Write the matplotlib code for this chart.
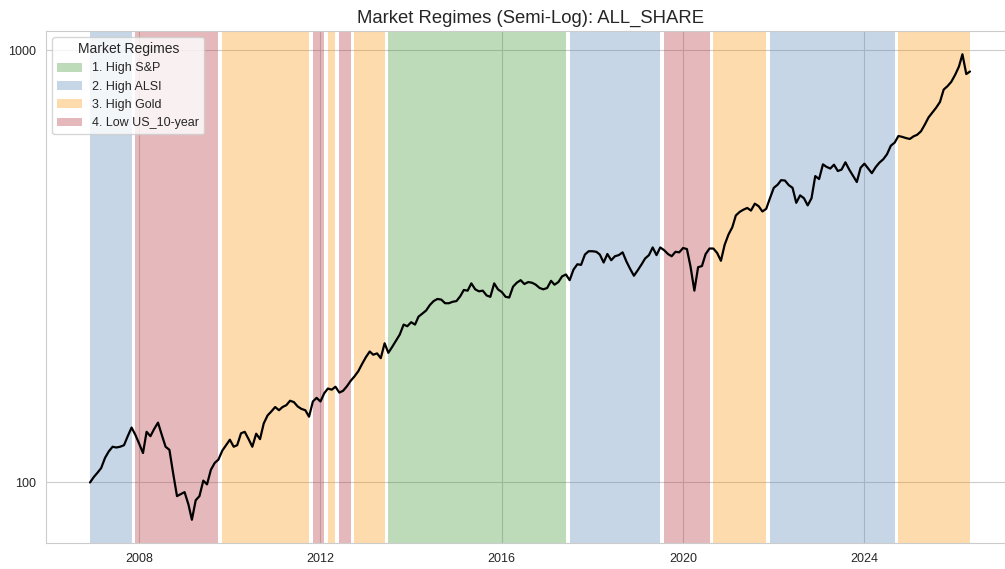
import matplotlib
matplotlib.use("Agg")
import matplotlib.pyplot as plt
import matplotlib.dates as mdates
from matplotlib import ticker
from matplotlib.patches import Patch
import pandas as pd
import seaborn as sns

# ======================
# 1. Data (monthly index level)
# ======================
start_month = "2006-12-01"

all_share = [
    100, 103, 105.5, 108, 114, 118, 121, 120.5, 121, 122, 128, 134,
    129, 123, 117, 131, 128, 133, 137.6, 129, 121, 119, 105, 93,
    94, 95, 89, 82, 91, 93, 101, 99, 107, 111, 113, 118.5,
    122, 125.6, 121, 122, 130, 131, 126, 121, 129.7, 126, 137, 143,
    146, 149.5, 147, 149.5, 151, 154.6, 153.5, 150, 148, 147, 142, 154,
    157, 154, 161, 165, 164, 166.6, 161.5, 163, 167, 172, 176, 181,
    188, 195, 201, 197.6, 199, 194, 210, 199.6, 206, 213, 220, 232,
    230, 235, 232, 242, 246, 250, 257.6, 263, 266, 265, 260, 260,
    262, 263, 270, 279, 278, 289, 280, 277, 278, 271, 269, 289,
    280, 276, 269, 268, 284, 290, 294, 288, 291, 290, 287, 282,
    280, 282, 293, 287, 291, 300, 303, 294, 311, 320, 319, 337,
    343, 343, 342, 337, 323, 338, 327, 334, 336, 341, 325, 312,
    301, 310, 320, 330, 336, 350, 336, 350, 345, 338, 334, 342,
    341, 349, 347, 316, 278, 315, 317, 338, 348, 348, 340, 326,
    355, 375, 390, 415, 423, 428, 432, 426, 442, 436, 424, 430,
    455, 481, 489, 501, 500, 488, 481, 444, 462, 455, 438, 455,
    512, 504, 545, 538, 533, 544, 526, 530, 551, 530, 513, 496,
    535, 547, 533, 520, 537, 550, 560, 575, 602, 612, 634, 631,
    627, 624, 633, 638, 650, 673, 700, 718, 737, 760, 812, 827,
    846, 878, 918, 980, 882, 894,
]

# regime periods (first and last month of each run)
regime_start = ["2006-12", "2007-12", "2009-11", "2011-11", "2012-03", "2012-06", "2012-10",
                "2013-07", "2017-07", "2019-08", "2020-09", "2021-12", "2024-10"]
regime_end = ["2007-11", "2009-10", "2011-10", "2012-02", "2012-05", "2012-09", "2013-06",
              "2017-06", "2019-07", "2020-08", "2021-11", "2024-09", "2026-05"]
regime_id = [2, 4, 3, 4, 3, 4, 3, 1, 2, 4, 3, 2, 3]

regime_names = {1: "1. High S&P", 2: "2. High ALSI", 3: "3. High Gold", 4: "4. Low US_10-year"}
regime_colors = {1: "#429837", 2: "#5c8ab8", 3: "#fc9812", 4: "#b5373d"}

dates = pd.date_range(start_month, periods=len(all_share), freq="MS")

# ======================
# 2. Plot
# ======================
sns.set_style("whitegrid")
plt.rcParams["font.family"] = ["Liberation Sans", "DejaVu Sans"]

fig = plt.figure(figsize=(10.05, 5.69), dpi=100)
# the right edge runs a little past the picture, as in the original crop
ax = fig.add_axes([46 / 1005, 26 / 569, 968 / 1005, 512 / 569])

for s, e, r in zip(regime_start, regime_end, regime_id):
    ax.axvspan(pd.Timestamp(s), pd.Timestamp(e), color=regime_colors[r], alpha=0.35, lw=0)

ax.plot(dates, all_share, color="black", lw=1.6, zorder=3)

ax.set_yscale("log")
ax.yaxis.set_major_formatter(ticker.FuncFormatter(lambda v, _: f"{v:.0f}"))
ax.yaxis.set_minor_formatter(ticker.NullFormatter())
ax.xaxis.set_major_locator(mdates.YearLocator(4))
ax.xaxis.set_major_formatter(mdates.DateFormatter("%Y"))
ax.tick_params(axis="both", labelsize=9, length=0, pad=7, colors="#262626")

ax.set_title("Market Regimes (Semi-Log): ALL_SHARE", fontsize=13.3, color="#262626", pad=6)

handles = [Patch(facecolor=regime_colors[k], alpha=0.35, lw=0, label=regime_names[k])
           for k in sorted(regime_names)]
leg = ax.legend(handles=handles, title="Market Regimes", loc="upper left",
                fontsize=9, title_fontsize=10, framealpha=0.8)

fig.savefig("out.png", dpi=100)
